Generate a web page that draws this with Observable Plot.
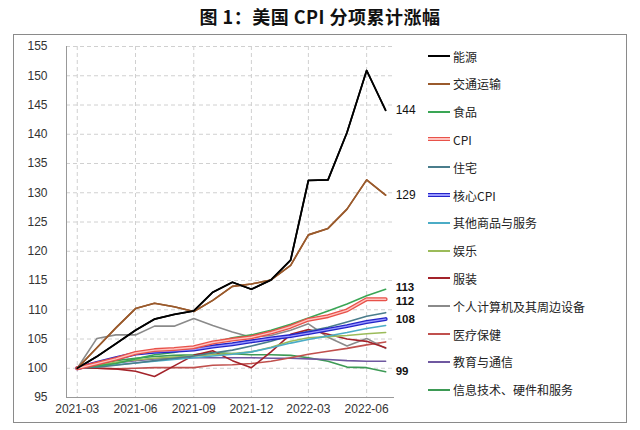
<!DOCTYPE html>
<html>
<head>
<meta charset="utf-8">
<script src="https://cdn.jsdelivr.net/npm/d3@7"></script>
<script src="https://cdn.jsdelivr.net/npm/@observablehq/plot@0.6"></script>
<style>
  html, body { margin: 0; padding: 0; background: #fff; }
  body { width: 640px; height: 430px; position: relative; overflow: hidden; font-family: "Noto Sans CJK SC", "Liberation Sans", sans-serif; }
  #title { position: absolute; left: 0; top: 3px; width: 640px; text-align: center; font-size: 18px; font-weight: 700; color: #111; font-family: "Noto Sans CJK SC", sans-serif; letter-spacing: 0.5px; }
  #box { position: absolute; left: 13px; top: 34px; width: 612px; height: 387px; border: 1px solid #8a8a8a; }
  #chart { position: absolute; left: 0; top: 0; }
  #legend { position: absolute; left: 414px; top: 0; }
  .row { position: absolute; left: 0; height: 16px; display: flex; align-items: center; white-space: nowrap; font-size: 12px; color: #222; }
  .sw { width: 22px; margin-right: 3px; }
</style>
</head>
<body>
<div id="title">图 1：美国 CPI 分项累计涨幅</div>
<div id="box"><div id="chart"></div><div id="legend"></div></div>
<script>
// ---- data ----
const months = ["2021-03","2021-04","2021-05","2021-06","2021-07","2021-08","2021-09","2021-10","2021-11","2021-12","2022-01","2022-02","2022-03","2022-04","2022-05","2022-06","2022-07"];
const seriesNames = ["能源","交通运输","食品","CPI","住宅","核心CPI","其他商品与服务","娱乐","服装","个人计算机及其周边设备","医疗保健","教育与通信","信息技术、硬件和服务"];
const energy     = [100,102.0,104.2,106.5,108.4,109.2,109.8,113.0,114.7,113.5,115.1,118.5,132.1,132.2,140.3,150.9,144.1];
const transport  = [100,103.5,106.9,110.2,111.1,110.5,109.7,111.6,114.0,114.4,115.1,117.6,122.8,123.9,127.2,132.2,129.6];
const food       = [100,100.4,100.8,101.6,102.3,102.7,103.6,104.4,105.2,105.7,106.5,107.5,108.6,109.8,111.0,112.4,113.5];
const cpi        = [100,100.8,101.6,102.6,103.1,103.3,103.6,104.4,104.9,105.3,106.1,107.1,108.3,108.9,109.9,111.8,111.8];
const housing    = [100,100.2,100.5,100.9,101.3,101.7,102.1,102.6,103.1,103.8,104.6,105.6,106.3,107.0,107.9,108.9,109.5];
const coreCpi    = [100,100.9,101.7,102.5,102.8,103.0,103.2,103.7,104.1,104.6,105.1,105.5,106.0,106.6,107.2,107.9,108.4];
const otherGoods = [100,100.3,100.6,100.9,101.2,101.5,101.8,102.1,102.4,102.8,103.5,104.3,104.9,105.5,106.1,106.8,107.3];
const recreation = [100,100.5,101.0,101.4,101.7,101.9,102.1,102.3,102.5,102.8,103.6,104.6,105.2,105.4,105.6,105.9,106.1];
const apparel    = [100,100.0,99.9,99.5,98.6,100.4,102.2,103.0,101.3,100.1,102.8,105.8,106.6,105.8,105.0,104.6,103.5];
const computers  = [100,105.1,105.7,105.7,107.2,107.2,108.5,107.3,106.2,105.3,105.6,106.5,107.6,105.3,103.8,105.1,103.4];
const medical    = [100,100.0,99.9,100.0,100.1,100.1,100.1,100.5,100.6,100.8,101.2,101.8,102.4,102.9,103.4,104.0,104.5];
const education  = [100,100.4,100.9,101.3,101.6,101.7,101.8,101.8,101.8,101.8,101.7,101.7,101.6,101.5,101.3,101.2,101.2];
const infoTech   = [100,100.7,101.3,101.7,102.0,102.2,102.3,102.7,102.5,102.3,102.3,102.2,101.8,101.2,100.2,100.1,99.4];
const seriesValues = [energy,transport,food,cpi,housing,coreCpi,otherGoods,recreation,apparel,computers,medical,education,infoTech];
const seriesColors = ["#000000","#9a5a2c","#3aa655","#e5534b","#4a7d8c","#2b2bd0","#4bacc6","#9bbb59","#a3232a","#8a8a8a","#c0504d","#6f58a0","#3d9a55"];
const yTicks = [95,100,105,110,115,120,125,130,135,140,145,150,155];
const xTickLabels = ["2021-03","2021-06","2021-09","2021-12","2022-03","2022-06"];
const endLabelSeries = ["能源","交通运输","食品","CPI","核心CPI","信息技术、硬件和服务"];
const endLabelText   = ["144","129","113","112","108","99"];
const endLabelBold   = [false,false,true,true,true,true];
const endLabelNudge  = [0,0,-2,2,0,0];

// ---- build ----
const parse = d3.utcParse("%Y-%m");
const rows = [];
seriesNames.forEach((name, s) => seriesValues[s].forEach((v, i) => rows.push({name, date: parse(months[i]), value: v})));
const colorOf = Object.fromEntries(seriesNames.map((n, i) => [n, seriesColors[i]]));
const lastDate = parse(months[months.length - 1]);
const labels = endLabelSeries.map((n, k) => ({
  date: lastDate, value: seriesValues[seriesNames.indexOf(n)].at(-1), text: endLabelText[k], bold: endLabelBold[k], nudge: endLabelNudge[k]
}));
const xTicks = xTickLabels.map(parse);
const xDomain = [new Date(Date.UTC(2021,1,12)), new Date(Date.UTC(2022,6,15))];

const normalNames = seriesNames.filter(n => n !== "CPI" && n !== "核心CPI");
const drawOrder = [...normalNames].reverse();
const lineMarks = [];
for (const n of drawOrder) {
  lineMarks.push(Plot.line(rows.filter(r => r.name === n), {x: "date", y: "value", stroke: colorOf[n], strokeWidth: 1.6}));
}
// double-style lines for CPI and core CPI
lineMarks.push(Plot.line(rows.filter(r => r.name === "核心CPI"), {x: "date", y: "value", stroke: "#2424c8", strokeWidth: 4}));
lineMarks.push(Plot.line(rows.filter(r => r.name === "核心CPI"), {x: "date", y: "value", stroke: "#9a9aff", strokeWidth: 1.4}));
lineMarks.push(Plot.line(rows.filter(r => r.name === "CPI"), {x: "date", y: "value", stroke: "#e8524a", strokeWidth: 4}));
lineMarks.push(Plot.line(rows.filter(r => r.name === "CPI"), {x: "date", y: "value", stroke: "#ffc4c0", strokeWidth: 1.4}));
// energy and transport on top
lineMarks.push(Plot.line(rows.filter(r => r.name === "交通运输"), {x: "date", y: "value", stroke: colorOf["交通运输"], strokeWidth: 1.6}));
lineMarks.push(Plot.line(rows.filter(r => r.name === "能源"), {x: "date", y: "value", stroke: colorOf["能源"], strokeWidth: 1.8}));

const labelMarks = [];
for (const d of labels) {
  labelMarks.push(Plot.text([d], {x: "date", y: "value", text: "text", dx: 10, dy: d.nudge, textAnchor: "start", fill: "#111", fontSize: d.bold ? 11.5 : 12, fontWeight: d.bold ? 600 : 400}));
}

const chart = Plot.plot({
  width: 420, height: 387,
  marginLeft: 52, marginRight: 40, marginTop: 11, marginBottom: 25,
  style: {fontFamily: "'Liberation Sans', Arial, sans-serif", fontSize: "12px", color: "#333", background: "transparent"},
  x: {type: "utc", domain: xDomain},
  y: {domain: [95, 155]},
  marks: [
    Plot.gridY(yTicks, {stroke: "#d0d0d0", strokeOpacity: 1, strokeDasharray: "4,3"}),
    Plot.gridX(xTicks, {stroke: "#d0d0d0", strokeOpacity: 1, strokeDasharray: "4,3"}),
    Plot.ruleX([xDomain[0]], {stroke: "#999"}),
    Plot.ruleY([95], {stroke: "#999"}),
    Plot.axisY(yTicks, {tickSize: 0, tickPadding: 19, label: null, fontSize: 12}),
    Plot.axisX(xTicks, {tickSize: 0, tickPadding: 7, label: null, tickFormat: d3.utcFormat("%Y-%m"), fontSize: 12}),
    ...lineMarks,
    ...labelMarks
  ]
});
document.getElementById("chart").appendChild(chart);

// ---- legend ----
const legend = document.getElementById("legend");
seriesNames.forEach((n, i) => {
  const row = document.createElement("div");
  row.className = "row";
  row.style.top = (13 + i * 27.8) + "px";
  const sw = document.createElement("span");
  sw.className = "sw";
  if (n === "CPI") {
    sw.style.height = "2px"; sw.style.background = "#ffc4c0"; sw.style.border = "1px solid #e8524a"; sw.style.borderLeft = "none"; sw.style.borderRight = "none";
  } else if (n === "核心CPI") {
    sw.style.height = "2px"; sw.style.background = "#9a9aff"; sw.style.border = "1px solid #2424c8"; sw.style.borderLeft = "none"; sw.style.borderRight = "none";
  } else {
    sw.style.height = "2px"; sw.style.background = colorOf[n];
  }
  const t = document.createElement("span");
  t.textContent = n;
  row.appendChild(sw); row.appendChild(t);
  legend.appendChild(row);
});
</script>
</body>
</html>
